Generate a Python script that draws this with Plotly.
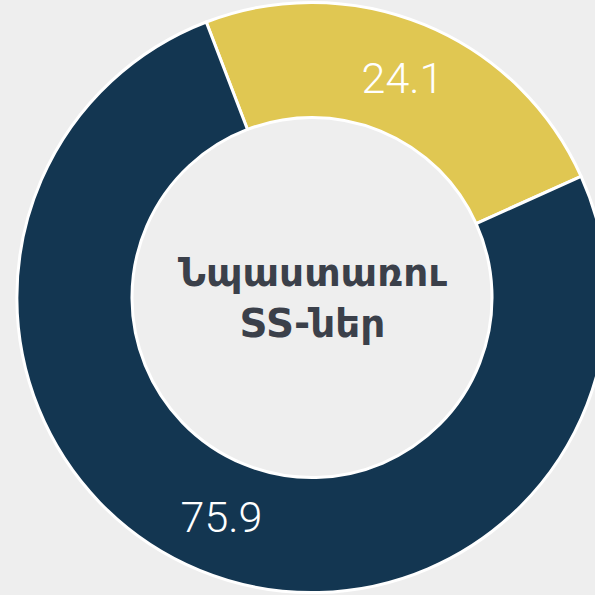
import plotly.graph_objects as go

labels = ["Group A", "Group B"]
values = [24.1, 75.9]
colors = ["#e0c752", "#133651"]
center_text = "Նպաստառու<br>SS-ներ"

fig = go.Figure()
fig.add_trace(go.Pie(
    labels=labels,
    values=values,
    hole=0.61,
    sort=False,
    direction="clockwise",
    rotation=-21,
    marker=dict(colors=colors, line=dict(color="white", width=3)),
    texttemplate="%{value:.1f}",
    textposition="inside",
    insidetextorientation="horizontal",
    textfont=dict(family="Roboto", size=43, color="white", weight=300),
    hoverinfo="none",
    showlegend=False,
    domain=dict(x=[0, 1], y=[0.004, 0.996]),
))
fig.add_annotation(
    x=0.5, y=0.5, xref="paper", yref="paper",
    text=center_text, showarrow=False,
    font=dict(family="DejaVu Sans", size=39, color="#3b404a", weight="bold"),
    align="center",
)
fig.update_layout(
    width=624, height=595,
    margin=dict(l=0, r=0, t=0, b=0),
    paper_bgcolor="#eeeeee",
    plot_bgcolor="#eeeeee",
)
fig.write_html(
    "out.html",
    config={"displayModeBar": False},
    post_script="document.body.style.margin='0';document.body.style.overflow='hidden';",
)
